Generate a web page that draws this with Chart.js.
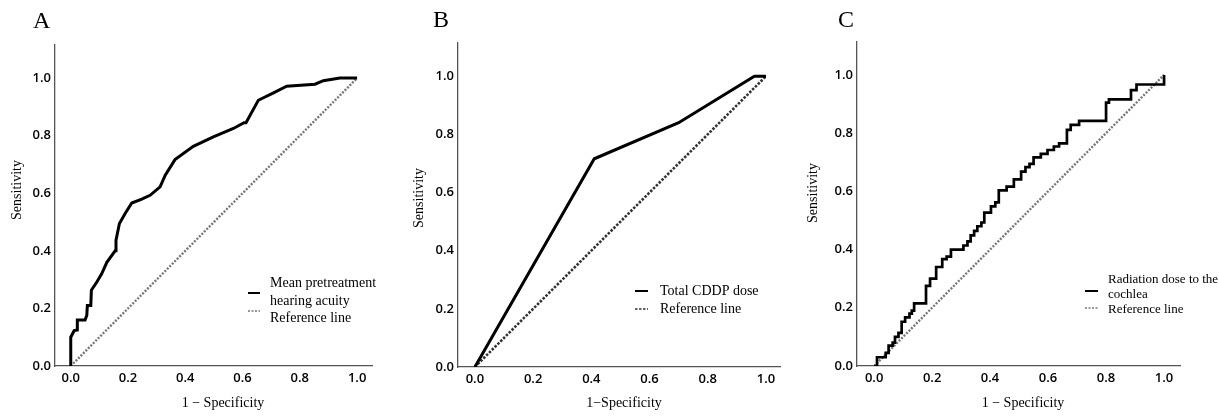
<!DOCTYPE html>
<html lang="en">
<head>
    <meta charset="UTF-8">
    <title>ROC curves</title>
    <script src="https://cdn.jsdelivr.net/npm/chart.js"></script>
    <style>
        body { margin: 0; background: #fff; }
        .panel { position: absolute; top: 0; }
    </style>
</head>
<body>
<canvas id="chartA" class="panel" style="left:0" width="400" height="416"></canvas>
<canvas id="chartB" class="panel" style="left:400px" width="400" height="416"></canvas>
<canvas id="chartC" class="panel" style="left:800px" width="419" height="416"></canvas>

<script>
    // shared axis ticks
    const axisTicks = [0, 0.2, 0.4, 0.6, 0.8, 1.0];
    const refX = [0, 1];
    const refY = [0, 1];

    // A: mean pretreatment hearing acuity
    const rocAX = [0, 0, 0.012, 0.023, 0.023, 0.05, 0.056, 0.058, 0.07, 0.072,
        0.09, 0.108, 0.126, 0.155, 0.158, 0.17, 0.19, 0.213, 0.248, 0.277,
        0.312, 0.33, 0.364, 0.428, 0.498, 0.568, 0.605, 0.612, 0.655, 0.708,
        0.754, 0.853, 0.882, 0.94, 1.0];
    const rocAY = [0, 0.10, 0.123, 0.125, 0.16, 0.16, 0.176, 0.21, 0.21, 0.263,
        0.29, 0.32, 0.36, 0.40, 0.437, 0.495, 0.53, 0.566, 0.58, 0.593,
        0.622, 0.663, 0.717, 0.763, 0.796, 0.825, 0.845, 0.845, 0.923, 0.949,
        0.972, 0.979, 0.991, 1.0, 1.0];

    // B: total CDDP dose
    const rocBX = [0, 0.41, 0.70, 0.96, 1.0];
    const rocBY = [0, 0.716, 0.84, 1.0, 1.0];

    // C: radiation dose to the cochlea (x where the step rises, y after it)
    const rocCX = [0, 0.01, 0.04, 0.05, 0.064, 0.072, 0.084, 0.095, 0.107, 0.122,
        0.13, 0.138, 0.179, 0.193, 0.214, 0.235, 0.25, 0.265, 0.308, 0.322,
        0.333, 0.345, 0.356, 0.37, 0.38, 0.403, 0.418, 0.43, 0.457, 0.482,
        0.507, 0.522, 0.536, 0.55, 0.575, 0.598, 0.62, 0.638, 0.665, 0.678,
        0.707, 0.80, 0.81, 0.886, 0.905, 1.0];
    const rocCY = [0, 0.03, 0.045, 0.07, 0.08, 0.10, 0.114, 0.152, 0.167, 0.18,
        0.19, 0.215, 0.275, 0.30, 0.34, 0.367, 0.376, 0.40, 0.414, 0.428,
        0.449, 0.464, 0.48, 0.493, 0.527, 0.548, 0.562, 0.603, 0.616, 0.641,
        0.668, 0.683, 0.694, 0.717, 0.729, 0.742, 0.754, 0.765, 0.811, 0.828,
        0.842, 0.905, 0.916, 0.948, 0.967, 1.0];

    function toPoints(xs, ys) {
        return xs.map((x, i) => ({ x: x, y: ys[i] }));
    }

    const serif = '"Liberation Serif", "Times New Roman", serif';

    // draws panel letter, axis titles and the legend
    const panelText = {
        id: 'panelText',
        afterDraw(chart, args, o) {
            const ctx = chart.ctx;
            ctx.save();
            ctx.fillStyle = '#000';
            ctx.font = '24px ' + serif;
            ctx.textAlign = 'left';
            ctx.textBaseline = 'alphabetic';
            ctx.fillText(o.letter, o.letterX, o.letterY);

            ctx.font = '14px ' + serif;
            ctx.textAlign = 'center';
            ctx.textBaseline = 'middle';
            ctx.fillText(o.xTitle, o.xTitleX, o.xTitleY);
            ctx.save();
            ctx.translate(o.yTitleX, o.yTitleY);
            ctx.rotate(-Math.PI / 2);
            ctx.fillText('Sensitivity', 0, 0);
            ctx.restore();

            const lg = o.legend;
            ctx.font = lg.size + 'px ' + serif;
            ctx.textAlign = 'left';
            lg.lines.forEach(l => ctx.fillText(l.text, lg.textX, l.y));
            lg.samples.forEach(s => {
                const ds = chart.data.datasets[s.ds];
                ctx.beginPath();
                ctx.strokeStyle = ds.borderColor;
                ctx.lineWidth = s.width;
                ctx.setLineDash(ds.borderDash || []);
                ctx.moveTo(lg.x0, s.y);
                ctx.lineTo(lg.x1, s.y);
                ctx.stroke();
            });
            ctx.restore();
        }
    };

    function makeAxis(min, max, size, pad, horizontal) {
        return {
            type: 'linear',
            min: min,
            max: max,
            grid: { display: false, drawTicks: false },
            border: { display: true, color: '#555', width: 1.3 },
            afterBuildTicks: scale => { scale.ticks = axisTicks.map(v => ({ value: v })); },
            afterFit: scale => {
                if (horizontal) scale.height = size; else scale.width = size;
            },
            ticks: {
                padding: pad,
                color: '#000',
                font: { family: '"Open Sans", "DejaVu Sans", sans-serif', size: 13, weight: '600' },
                callback: v => v.toFixed(1)
            }
        };
    }

    function drawPanel(id, curve, ref, p) {
        const ctx = document.getElementById(id).getContext('2d');
        new Chart(ctx, {
            type: 'scatter',
            data: {
                datasets: [
                    Object.assign({
                        data: curve,
                        showLine: true,
                        borderColor: '#000',
                        borderWidth: 3,
                        pointRadius: 0,
                        tension: 0,
                        fill: false
                    }, p.curveStyle || {}),
                    Object.assign({
                        data: ref,
                        showLine: true,
                        borderColor: '#777',
                        borderWidth: 2.4,
                        borderDash: [2, 1.5],
                        pointRadius: 0,
                        fill: false
                    }, p.refStyle || {})
                ]
            },
            options: {
                responsive: false,
                devicePixelRatio: 1,
                animation: false,
                layout: { padding: { left: 0, right: p.padRight, top: p.padTop, bottom: 0 } },
                plugins: {
                    legend: { display: false },
                    tooltip: { enabled: false },
                    panelText: p.text
                },
                scales: {
                    x: makeAxis(p.xMin, p.xMax, p.xAxisH, 4, true),
                    y: makeAxis(0, p.yMax, p.yAxisW, 4, false)
                }
            },
            plugins: [panelText]
        });
    }

    drawPanel('chartA', toPoints(rocAX, rocAY), toPoints(refX, refY), {
        padRight: 28, padTop: 45, xAxisH: 50, yAxisW: 55,
        xMin: -0.055, xMax: 1.052, yMax: 1.115,
        text: {
            letter: 'A', letterX: 33, letterY: 28,
            xTitle: '1 \u2212 Specificity', xTitleX: 223, xTitleY: 403,
            yTitleX: 17, yTitleY: 190,
            legend: {
                size: 14, x0: 248, x1: 260, textX: 270,
                lines: [
                    { text: 'Mean pretreatment', y: 283 },
                    { text: 'hearing acuity', y: 301 },
                    { text: 'Reference line', y: 318 }
                ],
                samples: [{ ds: 0, y: 293, width: 2 }, { ds: 1, y: 311, width: 1.5 }]
            }
        }
    });

    drawPanel('chartB', toPoints(rocBX, rocBY), toPoints(refX, refY), {
        padRight: 20, padTop: 43, xAxisH: 49, yAxisW: 58,
        xMin: -0.058, xMax: 1.048, yMax: 1.114,
        refStyle: { borderColor: '#333', borderWidth: 2.6, borderDash: [2.5, 1.5] },
        text: {
            letter: 'B', letterX: 33, letterY: 27,
            xTitle: '1\u2212Specificity', xTitleX: 224, xTitleY: 403,
            yTitleX: 19, yTitleY: 198,
            legend: {
                size: 14, x0: 235, x1: 248, textX: 260,
                lines: [
                    { text: 'Total CDDP dose', y: 291 },
                    { text: 'Reference line', y: 309 }
                ],
                samples: [{ ds: 0, y: 291, width: 2 }, { ds: 1, y: 309, width: 1.5 }]
            }
        }
    });

    drawPanel('chartC', toPoints(rocCX, rocCY), toPoints(refX, refY), {
        padRight: 39, padTop: 42, xAxisH: 50, yAxisW: 57,
        xMin: -0.059, xMax: 1.055, yMax: 1.113,
        curveStyle: { stepped: 'before', borderWidth: 2.7 },
        text: {
            letter: 'C', letterX: 38, letterY: 27,
            xTitle: '1 \u2212 Specificity', xTitleX: 223, xTitleY: 403,
            yTitleX: 13, yTitleY: 193,
            legend: {
                size: 13, x0: 285, x1: 298, textX: 308,
                lines: [
                    { text: 'Radiation dose to the', y: 280 },
                    { text: 'cochlea', y: 295 },
                    { text: 'Reference line', y: 310 }
                ],
                samples: [{ ds: 0, y: 291, width: 2 }, { ds: 1, y: 308, width: 1.5 }]
            }
        }
    });
</script>
</body>
</html>
